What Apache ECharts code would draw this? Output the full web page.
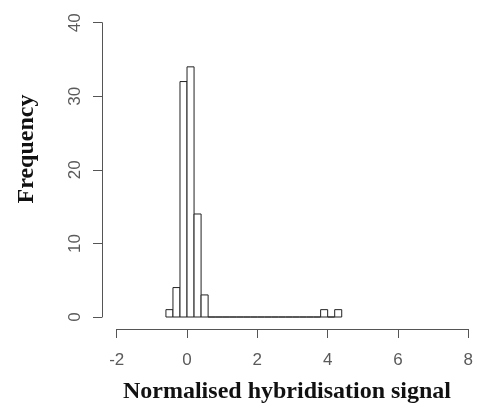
<!DOCTYPE html>
<html>
<head>
<meta charset="utf-8">
<script src="https://cdn.jsdelivr.net/npm/echarts@6/dist/echarts.min.js"></script>
<style>
  html, body { margin: 0; padding: 0; background: #ffffff; }
  #chart { width: 477px; height: 411px; }
</style>
</head>
<body>
<div id="chart"></div>
<script>
// Histogram bin edges (width 0.2) and counts per bin
const binEdges = [-0.6, -0.4, -0.2, 0.0, 0.2, 0.4, 0.6, 0.8, 1.0, 1.2, 1.4, 1.6, 1.8,
                  2.0, 2.2, 2.4, 2.6, 2.8, 3.0, 3.2, 3.4, 3.6, 3.8, 4.0, 4.2, 4.4];
const binCounts = [1, 4, 32, 34, 14, 3, 0, 0, 0, 0, 0, 0, 0,
                   0, 0, 0, 0, 0, 0, 0, 0, 0, 1, 0, 1];
const xTicks = [-2, 0, 2, 4, 6, 8];
const yTicks = [0, 10, 20, 30, 40];
const xTitle = 'Normalised hybridisation signal';
const yTitle = 'Frequency';

const bins = binCounts.map((c, i) => [binEdges[i], binEdges[i + 1], c]);

const chart = echarts.init(document.getElementById('chart'), null, { renderer: 'canvas' });

const axisColor = '#555555';
const labelColor = '#5a5a5a';
const titleFont = 'bold 24px "Liberation Serif", "Times New Roman", serif';

chart.setOption({
  animation: false,
  backgroundColor: '#ffffff',
  grid: {
    left: 116.7, right: 8.7, top: 22.7, bottom: 94,
    containLabel: false,
    outerBoundsMode: 'none'
  },
  xAxis: {
    type: 'value',
    min: xTicks[0], max: xTicks[xTicks.length - 1], interval: 2,
    offset: 12,
    axisLine: { show: true, onZero: false, lineStyle: { color: axisColor, width: 1 } },
    axisTick: { show: true, length: 9, lineStyle: { color: axisColor, width: 1 } },
    axisLabel: {
      margin: 23, color: labelColor, fontFamily: 'Liberation Sans, Arial, sans-serif', fontSize: 17,
      formatter: v => xTicks.includes(v) ? String(v) : ''
    },
    splitLine: { show: false }
  },
  yAxis: {
    type: 'value',
    min: yTicks[0], max: yTicks[yTicks.length - 1], interval: 10,
    offset: 14.7,
    axisLine: { show: true, onZero: false, lineStyle: { color: axisColor, width: 1 } },
    axisTick: { show: true, length: 9, lineStyle: { color: axisColor, width: 1 } },
    axisLabel: {
      rotate: 90, margin: 18, color: labelColor,
      fontFamily: 'Liberation Sans, Arial, sans-serif', fontSize: 17,
      formatter: v => yTicks.includes(v) ? String(v) : ''
    },
    splitLine: { show: false }
  },
  graphic: [
    {
      type: 'text', x: 287, y: 392,
      style: {
        text: xTitle, fill: '#111111', font: titleFont,
        textAlign: 'center', textVerticalAlign: 'middle'
      }
    },
    {
      type: 'text', x: 27, y: 149, rotation: Math.PI / 2,
      style: {
        text: yTitle, fill: '#111111', font: titleFont,
        textAlign: 'center', textVerticalAlign: 'middle'
      }
    }
  ],
  series: [{
    type: 'custom',
    data: bins,
    encode: { x: [0, 1], y: 2 },
    renderItem: (params, api) => {
      const p0 = api.coord([api.value(0), api.value(2)]);
      const p1 = api.coord([api.value(1), 0]);
      return {
        type: 'rect',
        shape: { x: p0[0], y: p0[1], width: p1[0] - p0[0], height: p1[1] - p0[1] },
        style: { fill: '#ffffff', stroke: '#222222', lineWidth: 1 }
      };
    }
  }]
});
</script>
</body>
</html>
